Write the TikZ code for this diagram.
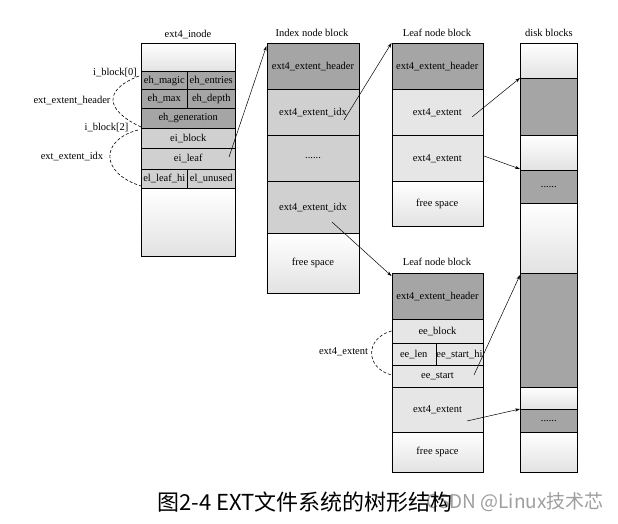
\documentclass[tikz,border=0pt]{standalone}
\usepackage{fontspec}
\setmainfont{Liberation Serif}
\newfontfamily\cjk{Noto Sans CJK SC}
\usetikzlibrary{arrows.meta}
\definecolor{dk}{HTML}{A5A5A5}
\definecolor{md}{HTML}{D0D0D0}
\definecolor{lt}{HTML}{E6E6E6}
\definecolor{fr}{HTML}{E2E2E2}
\newcommand\mkcell[7]{%
  \node[cell,#6,minimum width={#4-#2},minimum height={#5-#3}] (#1) at (#2,#3) {#7};}
\begin{document}
\begin{tikzpicture}[x=1pt,y=-1pt,
  cell/.style={draw=black,line width=0.5pt,inner sep=0pt,anchor=north west,
    font=\fontsize{10.5}{12}\selectfont,align=center},
  lbl/.style={font=\fontsize{10.5}{12}\selectfont,inner sep=0pt},
  arr/.style={line width=0.5pt,-{Stealth[length=5pt,width=3.2pt]}},
  brace/.style={line width=0.6pt,dash pattern=on 3pt off 2pt},
  fade/.style={shade,top color=white,bottom color=fr},
]
\useasboundingbox (0,0) rectangle (618,524);

% ext4_inode
\node[lbl] (tino) at (188,35) {ext4\_inode};
\mkcell{ino0}{141}{43}{235}{71.5}{fade}{}
\mkcell{magic}{141}{71.5}{187}{89}{fill=dk}{eh\_magic}
\mkcell{entries}{187}{71.5}{235}{89}{fill=dk}{eh\_entries}
\mkcell{max}{141}{89}{187}{108}{fill=dk}{eh\_max}
\mkcell{depth}{187}{89}{235}{108}{fill=dk}{eh\_depth}
\mkcell{gen}{141}{108}{235}{128}{fill=dk}{eh\_generation}
\mkcell{eiblock}{141}{128}{235}{148}{fill=md}{ei\_block}
\mkcell{eileaf}{141}{148}{235}{169}{fill=md}{ei\_leaf}
\mkcell{leafhi}{141}{169}{187}{188}{fill=md}{el\_leaf\_hi}
\mkcell{unused}{187}{169}{235}{188}{fill=md}{el\_unused}
\mkcell{ino9}{141}{188}{235}{256}{fade}{}

% left labels and braces
\node[lbl] (ib0) at (115,73) {i\_block[0]};
\node[lbl] (eeh) at (72,101) {ext\_extent\_header};
\node[lbl] (ib2) at (106.5,128) {i\_block[2]};
\node[lbl] (eei) at (72,157) {ext\_extent\_idx};
\coordinate (b1s) at (139,76);
\coordinate (b1e) at (141,127);
\coordinate (b2s) at (138,130);
\coordinate (b2e) at (141,186);
\draw[brace] (b1s) .. controls (103,90) and (105,110) .. (b1e);
\draw[brace] (b2s) .. controls (100,140) and (100,173) .. (b2e);

% Index node block
\node[lbl] (tidx) at (312,33) {Index node block};
\mkcell{ihdr}{266.5}{43}{359}{89}{fill=dk}{ext4\_extent\_header}
\mkcell{iidx1}{266.5}{89}{359}{135}{fill=md}{ext4\_extent\_idx}
\mkcell{idots}{266.5}{135}{359}{181}{fill=md}{......}
\mkcell{iidx2}{266.5}{181}{359}{233}{fill=md}{ext4\_extent\_idx}
\mkcell{ifree}{266.5}{233}{359}{293}{fade}{free space}

% Leaf node block 1
\node[lbl] (tl1) at (437,33) {Leaf node block};
\mkcell{l1hdr}{391.5}{43}{482.5}{89}{fill=dk}{ext4\_extent\_header}
\mkcell{l1e1}{391.5}{89}{482.5}{135}{fill=lt}{ext4\_extent}
\mkcell{l1e2}{391.5}{135}{482.5}{181}{fill=lt}{ext4\_extent}
\mkcell{l1free}{391.5}{181}{482.5}{226}{fade}{free space}

% Leaf node block 2
\node[lbl] (tl2) at (437,262) {Leaf node block};
\mkcell{l2hdr}{391.5}{273}{483}{319}{fill=dk}{ext4\_extent\_header}
\mkcell{eeblock}{391.5}{319}{483}{343}{fill=lt}{ee\_block}
\mkcell{eelen}{391.5}{343}{435.5}{365}{fill=lt}{ee\_len}
\mkcell{eehi}{435.5}{343}{483}{365}{fill=lt}{ee\_start\_hi}
\mkcell{eestart}{391.5}{365}{483}{387}{fill=lt}{ee\_start}
\mkcell{l2e}{391.5}{387}{483}{432}{fill=lt}{ext4\_extent}
\mkcell{l2free}{391.5}{432}{483}{472}{fade}{free space}
\node[lbl] (e4x) at (343.5,352) {ext4\_extent};
\coordinate (b3s) at (391.5,331);
\coordinate (b3e) at (391.5,375);
\draw[brace] (b3s) .. controls (365,338) and (365,368) .. (b3e);

% disk blocks
\node[lbl] (tdisk) at (549,33) {disk blocks};
\mkcell{d0}{520}{43}{577}{78}{fade}{}
\mkcell{d1}{520}{78}{577}{135}{fill=dk}{}
\mkcell{d2}{520}{135}{577}{170}{fade}{}
\mkcell{d3}{520}{170}{577}{203}{fill=dk}{......}
\mkcell{d4}{520}{203}{577}{273}{fade}{}
\mkcell{d5}{520}{273}{577}{387}{fill=dk}{}
\mkcell{d6}{520}{387}{577}{409}{fade}{}
\mkcell{d7}{520}{409}{577}{432}{fill=dk}{......}
\mkcell{d8}{520}{432}{577}{472}{fade}{}

% arrows
\coordinate (a1) at (229,157);
\coordinate (a2) at (344,120);
\coordinate (a3) at (332,222);
\coordinate (a4) at (472,117);
\coordinate (a5) at (484,156);
\coordinate (a6) at (474,375);
\coordinate (a7) at (467,421);
\draw[arr] (a1) -- ([yshift=-3pt]ihdr.north west);
\draw[arr] (a2) -- (l1hdr.north west);
\draw[arr] (a3) -- ([yshift=-3pt]l2hdr.north west);
\draw[arr] (a4) -- (d1.north west);
\draw[arr] (a5) -- ([yshift=1pt]d3.north west);
\draw[arr] (a6) -- ([yshift=-2pt]d5.north west);
\draw[arr] (a7) -- (d7.north west);

% caption and watermark
\node[font=\cjk\fontsize{19}{22}\selectfont,text=black!38,anchor=east,inner sep=0pt] (wm) at (604,502) {CSDN @Linux技术芯};
\node[font=\cjk\fontsize{22}{24}\selectfont,anchor=west,inner sep=0pt] (cap) at (157,502) {图2-4 EXT文件系统的树形结构};
\end{tikzpicture}
\end{document}
